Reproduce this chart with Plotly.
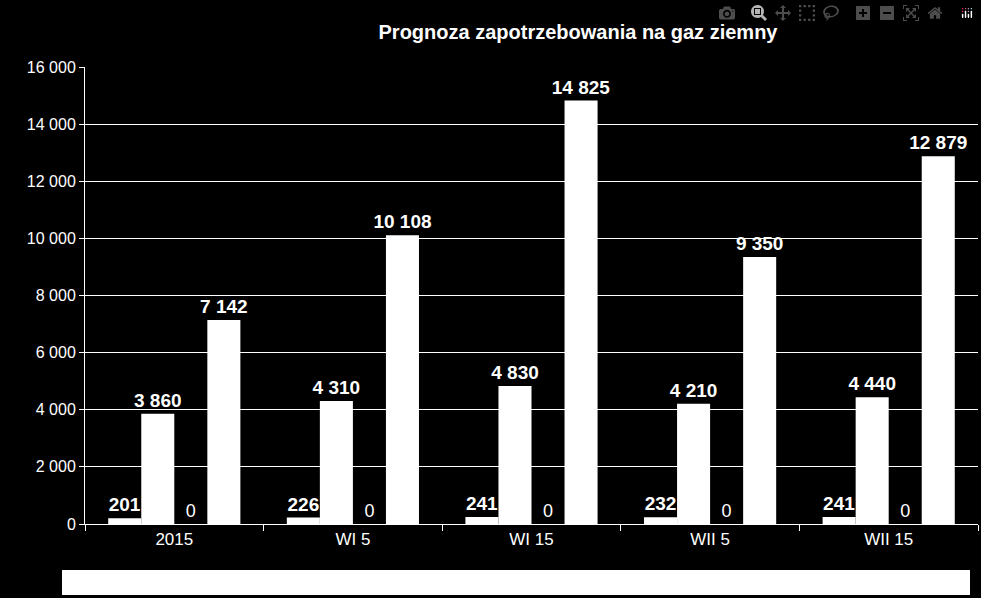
import plotly.graph_objects as go

categories = ["2015", "WI 5", "WI 15", "WII 5", "WII 15"]
s1 = [201, 226, 241, 232, 241]
s2 = [3860, 4310, 4830, 4210, 4440]
s3 = [0, 0, 0, 0, 0]
s4 = [7142, 10108, 14825, 9350, 12879]

def fmt(v):
    return f"{v:,}".replace(",", " ")

fig = go.Figure()
for vals, bold in [(s1, True), (s2, True), (s3, False), (s4, True)]:
    fig.add_trace(go.Bar(
        x=categories, y=vals, marker=dict(color="white", line=dict(width=0)),
        text=[("<b>%s</b>" % fmt(v)) if bold else fmt(v) for v in vals],
        textposition="outside", cliponaxis=False, constraintext="none",
        textfont=dict(color="white", size=19 if bold else 18, family="Liberation Sans"),
        showlegend=False))

fig.update_layout(
    width=981, height=598, barmode="group", bargap=0.26, bargroupgap=0,
    paper_bgcolor="black", plot_bgcolor="black",
    margin=dict(l=85, r=3, t=67, b=74),
    separators=", ",
    font=dict(family="Liberation Sans", color="white"),
    title=dict(text="<b>Prognoza zapotrzebowania na gaz ziemny</b>", x=578/981, xanchor="center",
               y=1-32/598, yanchor="middle", font=dict(size=20, color="white")),
)
fig.update_yaxes(range=[0, 16000], dtick=2000, tickformat=",d", gridcolor="white", gridwidth=1,
                 showline=True, linecolor="white", ticks="outside", tickcolor="white", ticklen=5,
                 tickfont=dict(size=16, color="white"), zeroline=False)
fig.update_xaxes(showline=True, linecolor="white", ticks="outside", tickson="boundaries",
                 tickcolor="white", ticklen=6, tickfont=dict(size=17, color="white"))
fig.add_shape(type="rect", xref="paper", yref="paper", x0=-23/893, x1=885/893,
              y0=-71/457, y1=-46/457, fillcolor="white", line=dict(width=0))
fig.write_html("out.html")

with open("out.html", encoding="utf-8") as f:
    html = f.read()
html = html.replace("<head>", "<head><style>html,body{margin:0;padding:0;background:black;overflow:hidden}</style>", 1)
with open("out.html", "w", encoding="utf-8") as f:
    f.write(html)
